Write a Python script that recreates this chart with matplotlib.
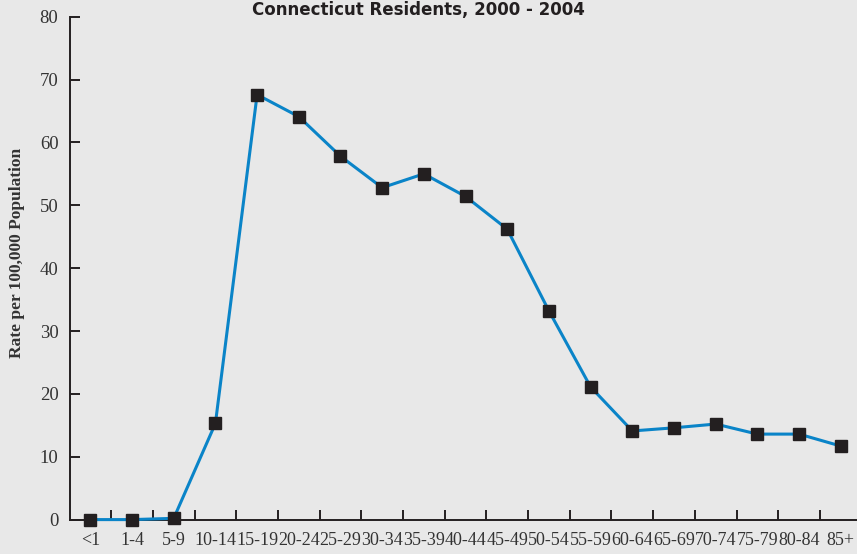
import numpy as np
import matplotlib
matplotlib.use('Agg')
import matplotlib.pyplot as plt
from matplotlib.ticker import FixedLocator, NullFormatter

# Age groups and rates per 100,000
age_groups = ['<1', '1-4', '5-9', '10-14', '15-19', '20-24', '25-29', '30-34',
              '35-39', '40-44', '45-49', '50-54', '55-59', '60-64', '65-69',
              '70-74', '75-79', '80-84', '85+']
rates = [0.0, 0.0, 0.2, 15.3, 67.6, 64.1, 57.8, 52.8, 55.0, 51.4, 46.2,
         33.2, 21.1, 14.1, 14.6, 15.2, 13.6, 13.6, 11.7]
y_ticks = [0, 10, 20, 30, 40, 50, 60, 70, 80]

bg = '#e8e8e8'
dark = '#231f20'

fig = plt.figure(figsize=(8.57, 5.54), dpi=100, facecolor=bg)
ax = fig.add_axes([0.0811, 0.0621, 0.9189, 0.9078], facecolor=bg)

x = np.arange(len(age_groups))
ax.plot(x, rates, color='#0a84c8', linewidth=2.2, marker='s', markersize=8.5,
        markerfacecolor=dark, markeredgecolor=dark, clip_on=False, zorder=3)

ax.set_xlim(-0.5, 18.39)
ax.set_ylim(0, 80)

# spines: only left and bottom
for side in ['top', 'right']:
    ax.spines[side].set_visible(False)
for side in ['left', 'bottom']:
    ax.spines[side].set_color(dark)
    ax.spines[side].set_linewidth(1.4)

# y ticks inward
ax.set_yticks(y_ticks)
ax.tick_params(axis='y', direction='in', length=7, width=1.4, color=dark,
               pad=8, labelsize=13.5, labelcolor='#333333')

# x labels centered on categories, tick marks at group boundaries
ax.set_xticks(x)
ax.set_xticklabels(age_groups)
ax.tick_params(axis='x', which='major', length=0, pad=9, labelsize=13,
               labelcolor='#333333')
ax.xaxis.set_minor_locator(FixedLocator(np.arange(0.5, 18.5, 1.0)))
ax.xaxis.set_minor_formatter(NullFormatter())
ax.tick_params(axis='x', which='minor', direction='in', length=7, width=1.4,
               color=dark)

for lab in ax.get_xticklabels() + ax.get_yticklabels():
    lab.set_family('Liberation Serif')

ax.set_ylabel('Rate per 100,000 Population', family='Liberation Serif',
              fontweight='bold', fontsize=12.5, color='#333333')
ax.yaxis.set_label_coords(-0.057, 0.53)

fig.text(0.488, 0.999, 'Connecticut Residents, 2000 - 2004', ha='center',
         va='top', fontsize=12, fontweight='bold', color=dark,
         family='Liberation Sans Narrow')

fig.savefig('out.png', dpi=100, facecolor=bg)
